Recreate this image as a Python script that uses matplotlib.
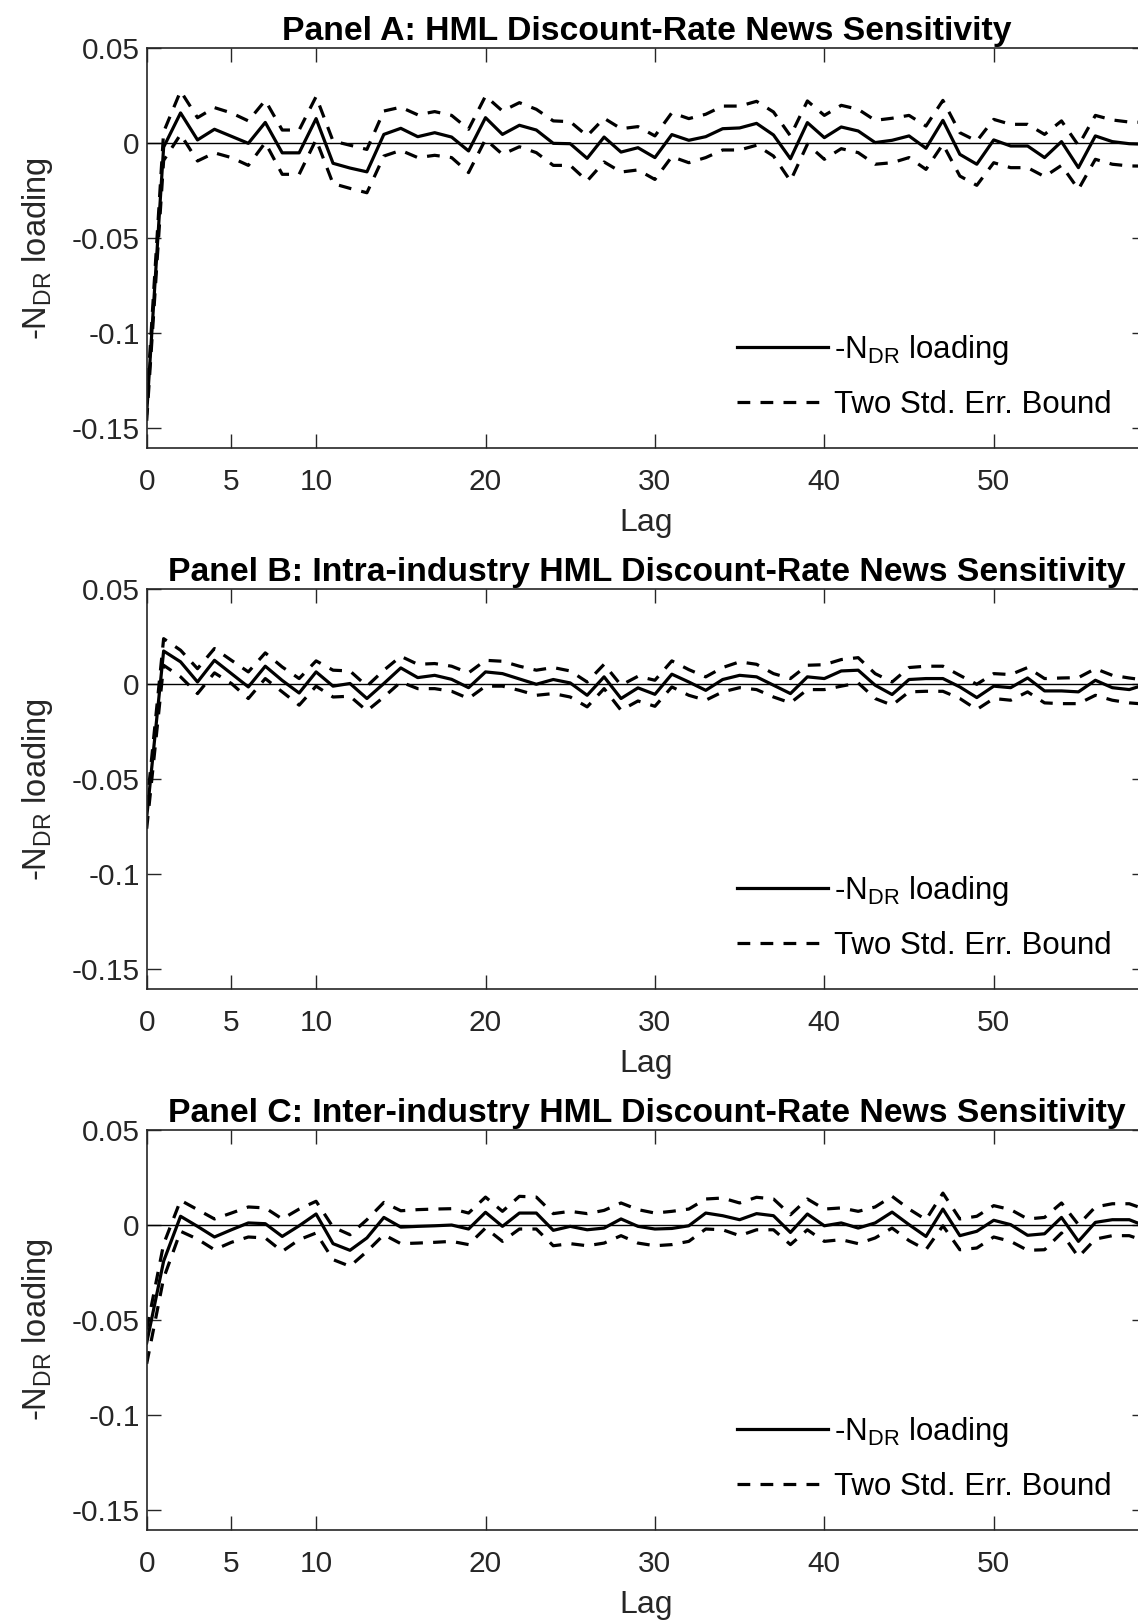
"""
Discount-rate news sensitivity of HML by lag, three panels
"""

import numpy as np
import matplotlib
matplotlib.use("Agg")
import matplotlib.pyplot as plt

plt.rcParams['font.family'] = ['Liberation Sans', 'DejaVu Sans']
plt.rcParams['mathtext.fontset'] = 'custom'
plt.rcParams['mathtext.rm'] = 'Liberation Sans'
plt.rcParams['mathtext.it'] = 'Liberation Sans:italic'

lags = np.arange(0, 60)

titles = ["Panel A: HML Discount-Rate News Sensitivity",
          "Panel B: Intra-industry HML Discount-Rate News Sensitivity",
          "Panel C: Inter-industry HML Discount-Rate News Sensitivity"]

# panel A
a_load = [-0.142, -0.002, 0.016, 0.0018, 0.0074, 0.0037, 0.0, 0.011, -0.005, -0.005,
          0.013, -0.0105, -0.013, -0.015, 0.0047, 0.0079, 0.0035, 0.0056, 0.0033, -0.004,
          0.0135, 0.0047, 0.0095, 0.007, 0.0, -0.0002, -0.0079, 0.0033, -0.0046, -0.0023,
          -0.0075, 0.0046, 0.0016, 0.0035, 0.0077, 0.0081, 0.0105, 0.0044, -0.0081, 0.0109,
          0.003, 0.0086, 0.0065, 0.0004, 0.0016, 0.0039, -0.0026, 0.0121, -0.0058, -0.011,
          0.0018, -0.0014, -0.0014, -0.0075, 0.0009, -0.0128, 0.0039, 0.0009, -0.0002, -0.0005]
a_up = [-0.137, 0.006, 0.0275, 0.0135, 0.0188, 0.016, 0.0118, 0.0226, 0.007, 0.007,
        0.0246, 0.0012, -0.001, -0.0032, 0.017, 0.019, 0.015, 0.0167, 0.0147, 0.0074,
        0.0249, 0.017, 0.0214, 0.0179, 0.0118, 0.0114, 0.0039, 0.0132, 0.0077, 0.0088,
        0.0039, 0.0161, 0.013, 0.0153, 0.0196, 0.0196, 0.0221, 0.0165, 0.0039, 0.0223,
        0.0147, 0.02, 0.0179, 0.0121, 0.0132, 0.0147, 0.0091, 0.0226, 0.0056, 0.0012,
        0.0126, 0.01, 0.01, 0.0047, 0.0118, -0.0011, 0.0147, 0.0123, 0.0112, 0.011]
a_lo = [-0.146, -0.009, 0.0047, -0.0093, -0.005, -0.0075, -0.0116, 0.0004, -0.0163, -0.0163,
        0.002, -0.0212, -0.0237, -0.026, -0.0067, -0.0037, -0.0075, -0.0063, -0.0075, -0.0154,
        0.0021, -0.0058, -0.0018, -0.0049, -0.0116, -0.0116, -0.0198, -0.0098, -0.0151, -0.014,
        -0.019, -0.007, -0.0102, -0.0075, -0.0035, -0.0035, -0.001, -0.0067, -0.0198, -0.0005,
        -0.0084, -0.0028, -0.0049, -0.011, -0.0102, -0.0075, -0.0137, -0.0005, -0.0172, -0.0221,
        -0.0102, -0.0128, -0.0128, -0.0175, -0.0116, -0.0242, -0.0084, -0.011, -0.0119, -0.012]

# panel B
b_load = [-0.070, 0.0175, 0.0118, 0.0012, 0.0126, 0.0056, -0.0014, 0.0095, 0.002, -0.0046,
          0.0065, -0.001, 0.0004, -0.0075, 0.0004, 0.0086, 0.0035, 0.0047, 0.0026, -0.0018,
          0.0065, 0.0056, 0.0028, 0.0, 0.0025, 0.0007, -0.0058, 0.0039, -0.0075, -0.0019,
          -0.0053, 0.0053, 0.0012, -0.0032, 0.0025, 0.0047, 0.0039, -0.0005, -0.0049, 0.0039,
          0.003, 0.007, 0.0074, -0.0005, -0.0054, 0.0025, 0.003, 0.003, -0.0014, -0.007,
          -0.001, -0.0018, 0.0033, -0.0035, -0.0035, -0.004, 0.0021, -0.0018, -0.0028, 0.0]
b_up = [-0.065, 0.024, 0.0179, 0.0082, 0.0188, 0.0126, 0.0065, 0.0165, 0.0091, 0.003,
        0.0123, 0.0074, 0.007, -0.001, 0.0074, 0.0147, 0.0105, 0.0109, 0.0095, 0.006,
        0.0126, 0.0121, 0.0095, 0.0074, 0.0088, 0.007, 0.0012, 0.0105, -0.0005, 0.0042,
        0.0021, 0.0123, 0.0077, 0.0039, 0.0088, 0.0118, 0.0105, 0.0056, 0.003, 0.01,
        0.0103, 0.013, 0.014, 0.0056, 0.0012, 0.0088, 0.0095, 0.0095, 0.0047, 0.0,
        0.0056, 0.0051, 0.0088, 0.003, 0.0033, 0.0035, 0.0082, 0.0047, 0.0033, 0.0021]
b_lo = [-0.076, 0.010, 0.0039, -0.0049, 0.006, 0.0004, -0.0075, 0.003, -0.004, -0.011,
        -0.001, -0.0067, -0.0063, -0.014, -0.0067, 0.0012, -0.0023, -0.0023, -0.0037, -0.0075,
        -0.001, -0.001, -0.0032, -0.0058, -0.0049, -0.0067, -0.0119, -0.0023, -0.0137, -0.0088,
        -0.0116, -0.0014, -0.0058, -0.0084, -0.004, -0.0018, -0.0028, -0.0067, -0.0098, -0.0028,
        -0.0028, -0.001, 0.0007, -0.0075, -0.011, -0.004, -0.0037, -0.0037, -0.0075, -0.0133,
        -0.0075, -0.0084, -0.004, -0.0098, -0.0102, -0.0102, -0.0058, -0.0084, -0.0098, -0.0105]

# panel C
c_load = [-0.062, -0.019, 0.0046, -0.0007, -0.0063, -0.0025, 0.0011, 0.0007, -0.006, -0.0004,
          0.0058, -0.0098, -0.0133, -0.0068, 0.004, -0.0011, -0.0007, -0.0004, 0.0, -0.0021,
          0.0067, -0.0007, 0.0063, 0.0063, -0.0028, -0.0007, -0.0025, -0.0016, 0.0032, -0.0007,
          -0.0021, -0.0018, -0.0004, 0.0063, 0.0049, 0.0028, 0.006, 0.0049, -0.0039, 0.0058,
          -0.0004, 0.0011, -0.0016, 0.0011, 0.0068, 0.0002, -0.006, 0.0084, -0.0056, -0.0033,
          0.0025, 0.0002, -0.0054, -0.0046, 0.004, -0.0086, 0.0014, 0.0028, 0.0028, -0.0007]
c_up = [-0.055, -0.010, 0.013, 0.0081, 0.0032, 0.0063, 0.0095, 0.009, 0.0032, 0.0084,
        0.0125, -0.0011, -0.0051, 0.0028, 0.0119, 0.0075, 0.0081, 0.0084, 0.0086, 0.0063,
        0.0147, 0.0072, 0.0151, 0.0147, 0.006, 0.0072, 0.006, 0.0077, 0.0116, 0.0081,
        0.0063, 0.0072, 0.0084, 0.0137, 0.0142, 0.0116, 0.0146, 0.0137, 0.0054, 0.0137,
        0.0084, 0.009, 0.0072, 0.0095, 0.0151, 0.0084, 0.0028, 0.0168, 0.0032, 0.0046,
        0.0102, 0.0081, 0.0032, 0.004, 0.0116, 0.0002, 0.0095, 0.0112, 0.0112, 0.0081]
c_lo = [-0.073, -0.028, -0.0033, -0.0074, -0.013, -0.0091, -0.0063, -0.0068, -0.0139, -0.0077,
        -0.0042, -0.0182, -0.0217, -0.0139, -0.0051, -0.0098, -0.0095, -0.0091, -0.0086, -0.0103,
        -0.0016, -0.0086, -0.0021, -0.0021, -0.0109, -0.0098, -0.0109, -0.0095, -0.0056, -0.0095,
        -0.0109, -0.0103, -0.0086, -0.0021, -0.0025, -0.0056, -0.0025, -0.0025, -0.0103, -0.0025,
        -0.0086, -0.0077, -0.0098, -0.0068, -0.0016, -0.0082, -0.013, -0.0004, -0.013, -0.0121,
        -0.0063, -0.0086, -0.0133, -0.013, -0.0042, -0.0168, -0.0074, -0.0056, -0.0056, -0.0086]

xticks = [0, 5, 10, 20, 30, 40, 50]
yticks = [-0.15, -0.1, -0.05, 0, 0.05]
ytick_labels = ['-0.15', '-0.1', '-0.05', '0', '0.05']

panels = [(a_load, a_up, a_lo), (b_load, b_up, b_lo), (c_load, c_up, c_lo)]
bottoms = [0.7234, 0.3897, 0.0561]

fig = plt.figure(figsize=(11.38, 16.21), dpi=100)
axcol = '#262626'

for (load, up, lo), title, bot in zip(panels, titles, bottoms):
    ax = fig.add_axes([0.1289, bot, 0.8783, 0.2468])
    ax.axhline(0, color='k', lw=1.0)
    ax.plot(lags, load, 'k-', lw=2.3, label=r'-N$_{\mathrm{DR}}$ loading')
    ax.plot(lags, up, 'k--', lw=2.3, dashes=(4, 3.2), label='Two Std. Err. Bound')
    ax.plot(lags, lo, 'k--', lw=2.3, dashes=(4, 3.2))
    ax.set_xlim(0, 59)
    ax.set_ylim(-0.1605, 0.05)
    ax.set_xticks(xticks)
    ax.set_yticks(yticks)
    ax.set_yticklabels(ytick_labels)
    ax.tick_params(direction='in', top=True, right=True, length=10, width=1,
                   labelsize=21.5, colors=axcol, labelcolor=axcol)
    ax.tick_params(axis='x', pad=14)
    ax.tick_params(axis='y', pad=5)
    for s in ax.spines.values():
        s.set_color(axcol)
        s.set_linewidth(1.2)
    ax.set_title(title, fontsize=24.3, fontweight='bold', pad=6)
    ax.set_xlabel('Lag', fontsize=23, color=axcol, labelpad=9)
    ax.set_ylabel(r'-N$_{\mathrm{DR}}$ loading', fontsize=23.5, color=axcol, labelpad=12)
    ax.legend(loc='lower right', frameon=False, fontsize=22.5, handlelength=2.9,
              handletextpad=0.2, labelspacing=0.75, borderaxespad=0.6,
              bbox_to_anchor=(0.997, -0.008))

fig.savefig('out.png', dpi=100)
